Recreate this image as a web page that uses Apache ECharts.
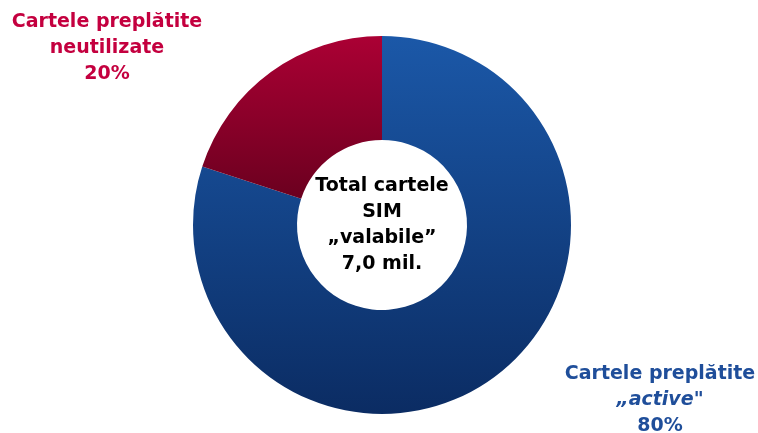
<!DOCTYPE html>
<html>
<head>
<meta charset="utf-8">
<script src="https://cdn.jsdelivr.net/npm/echarts@6/dist/echarts.min.js"></script>
<style>
html, body { margin: 0; padding: 0; background: #fff; }
#chart { width: 758px; height: 433px; }
</style>
</head>
<body>
<div id="chart"></div>
<script>
// data
const categories = ['Cartele preplătite „active"', 'Cartele preplătite neutilizate']
const shares = [80, 20]
const centerLines = ['Total cartele', 'SIM', '„valabile”', '7,0 mil.']

const font = 'Tahoma, "DejaVu Sans", sans-serif'

const chart = echarts.init(document.getElementById('chart'))

const option = {
	animation: false,
	graphic: [
		{
			type: 'text',
			x: 382,
			y: 225,
			style: {
				text: centerLines.join('\n'),
				align: 'center',
				verticalAlign: 'middle',
				font: 'bold 19px ' + font,
				lineHeight: 26,
				fill: '#000',
			},
		},
	],
	series: [
		{
			type: 'pie',
			center: [382, 225],
			radius: [85, 189],
			startAngle: 90,
			clockwise: true,
			silent: true,
			data: [
				{
					name: categories[0],
					value: shares[0],
					itemStyle: {
						color: new echarts.graphic.LinearGradient(0, 0, 0, 1, [
							{ offset: 0, color: '#1b58a8' },
							{ offset: 1, color: '#0b2c63' },
						]),
					},
					label: {
						color: '#1f4e9a',
						formatter: () => '{b|Cartele preplătite}\n{i|„active}{b|"}\n{b|' + shares[0] + '%}',
					},
				},
				{
					name: categories[1],
					value: shares[1],
					itemStyle: {
						color: new echarts.graphic.LinearGradient(0, 0, 0, 1, [
							{ offset: 0, color: '#ab0034' },
							{ offset: 1, color: '#6b001f' },
						]),
					},
					label: {
						color: '#c4003f',
						formatter: () => '{b|Cartele preplătite}\n{b|neutilizate}\n{b|' + shares[1] + '%}',
					},
				},
			],
			label: {
				show: true,
				position: 'outside',
				align: 'center',
				rich: {
					b: { fontFamily: font, fontWeight: 'bold', fontSize: 19, lineHeight: 26 },
					i: { fontFamily: font, fontWeight: 'bold', fontStyle: 'italic', fontSize: 19, lineHeight: 26 },
				},
			},
			labelLine: { show: false },
			labelLayout: (params) => {
				if (params.dataIndex === 0) {
					return { x: 660, y: 400, align: 'center', verticalAlign: 'middle' }
				}
				return { x: 107, y: 48, align: 'center', verticalAlign: 'middle' }
			},
		},
	],
}

chart.setOption(option)
window.addEventListener('resize', chart.resize)
</script>
</body>
</html>
